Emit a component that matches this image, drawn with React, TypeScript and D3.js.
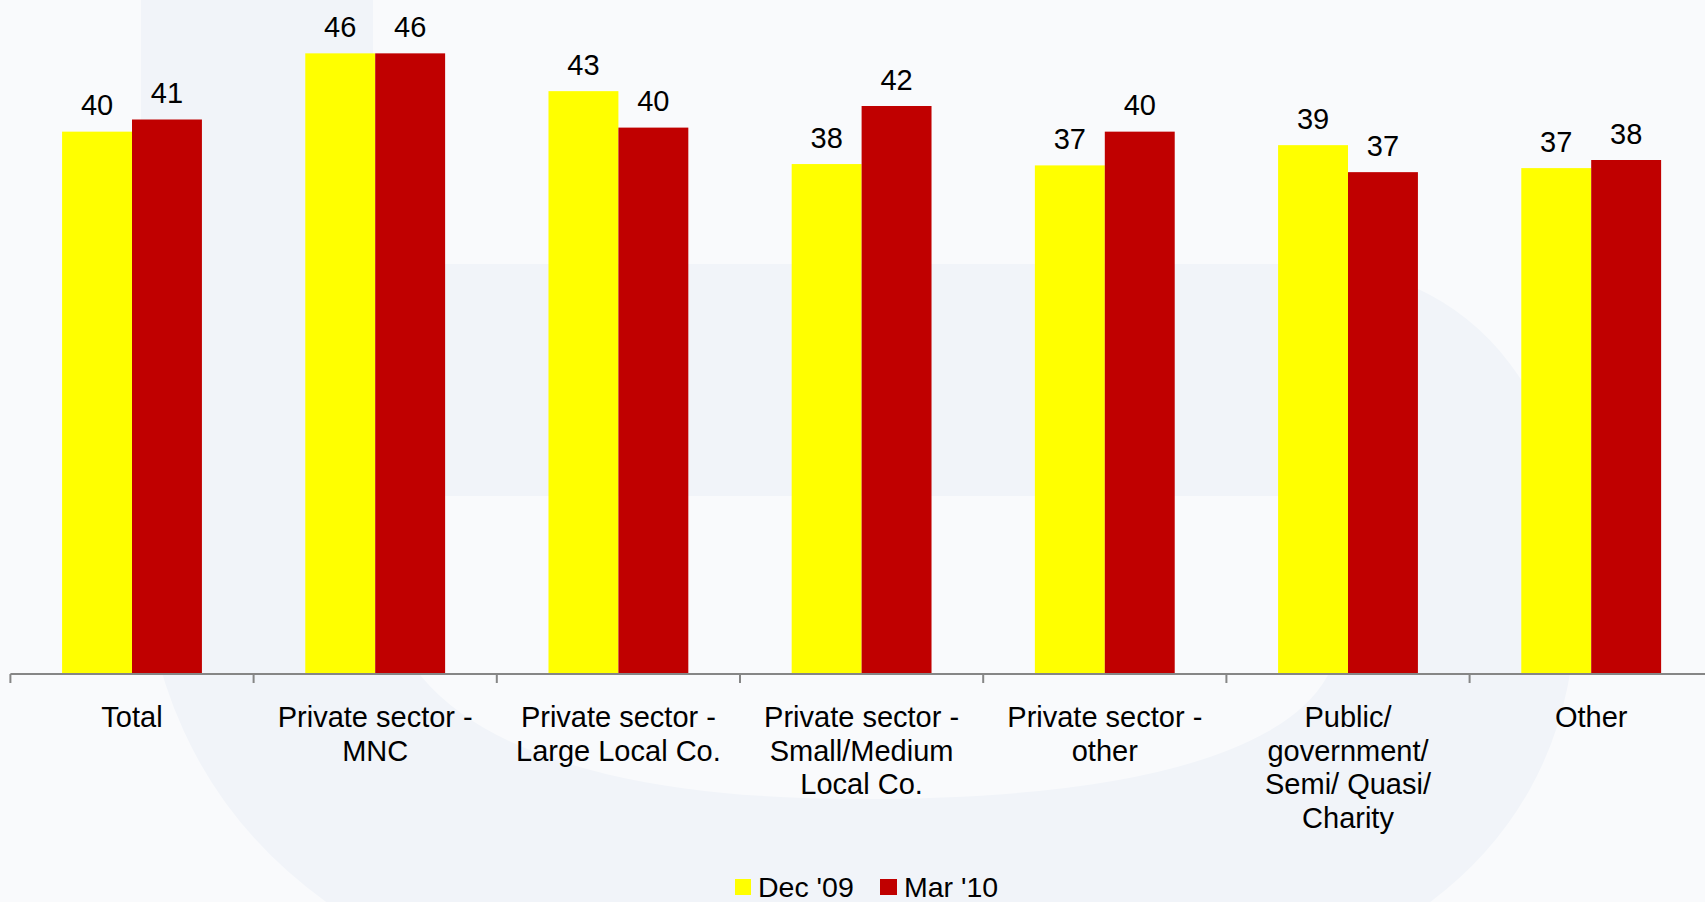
import React from "react";
import * as d3 from "d3";

const categories: string[] = [
  "Total",
  "Private sector -\nMNC",
  "Private sector -\nLarge Local Co.",
  "Private sector -\nSmall/Medium\nLocal Co.",
  "Private sector -\nother",
  "Public/\ngovernment/\nSemi/ Quasi/\nCharity",
  "Other",
];
const seriesNames: string[] = ["Dec '09", "Mar '10"];
const dec09: number[] = [40.1, 45.9, 43.1, 37.7, 37.6, 39.1, 37.4];
const mar10: number[] = [41.0, 45.9, 40.4, 42.0, 40.1, 37.1, 38.0];
const dec09Labels: string[] = ["40", "46", "43", "38", "37", "39", "37"];
const mar10Labels: string[] = ["41", "46", "40", "42", "40", "37", "38"];
const colors: string[] = ["#FFFF00", "#C00000"];

const W = 1705;
const H = 902;
const baseY = 673;
const FONT = "'Liberation Sans', Arial, Helvetica, sans-serif";

export default function App() {
  const x0 = d3.scaleBand<string>().domain(categories).range([10.4, 1712.8]).padding(0);
  const groupW = x0.bandwidth() * 0.575;
  const x1 = d3.scaleBand<string>().domain(seriesNames).range([0, groupW]).padding(0);
  const y = d3.scaleLinear().domain([0, 50]).range([baseY, baseY - 675]);

  const series = [
    { name: seriesNames[0], values: dec09, labels: dec09Labels, color: colors[0] },
    { name: seriesNames[1], values: mar10, labels: mar10Labels, color: colors[1] },
  ];

  const wm =
    "M 257 -40 L 257 520 C 257 760 420 915 860 915 C 1300 915 1460 800 1460 600 C 1460 450 1400 380 1300 380 L 257 380";

  return (
    <div style={{ position: "absolute", left: 0, top: 0 }}>
      <svg width={W} height={H} style={{ display: "block" }}>
        <rect x={0} y={0} width={W} height={H} fill="#f9fafc" />
        <path d={wm} fill="none" stroke="#f1f4f9" strokeWidth={232} />
        {categories.map((c, i) => {
          const gx = (x0(c) as number) + (x0.bandwidth() - groupW) / 2;
          return (
            <g key={c}>
              {series.map((s) => {
                const bx = gx + (x1(s.name) as number);
                const top = y(s.values[i]);
                return (
                  <g key={s.name}>
                    <rect x={bx} y={top} width={x1.bandwidth()} height={baseY - top} fill={s.color} />
                    <text
                      x={bx + x1.bandwidth() / 2}
                      y={top - 16.5}
                      textAnchor="middle"
                      fontFamily={FONT}
                      fontSize={29}
                      fill="#000"
                    >
                      {s.labels[i]}
                    </text>
                  </g>
                );
              })}
            </g>
          );
        })}
        <line x1={10.4} x2={W} y1={674} y2={674} stroke="#868686" strokeWidth={2} />
        {categories.map((c, i) => (
          <line
            key={"t" + i}
            x1={x0(c) as number}
            x2={x0(c) as number}
            y1={674}
            y2={683}
            stroke="#868686"
            strokeWidth={2}
          />
        ))}
        {categories.map((c) => {
          const cx = (x0(c) as number) + x0.bandwidth() / 2;
          return (
            <text key={"l" + c} textAnchor="middle" fontFamily={FONT} fontSize={29} fill="#000">
              {c.split("\n").map((line, j) => (
                <tspan key={j} x={cx} y={727 + j * 33.5}>
                  {line}
                </tspan>
              ))}
            </text>
          );
        })}
        <g>
          <rect x={735} y={879} width={16} height={16} fill={colors[0]} />
          <text x={758} y={897} fontFamily={FONT} fontSize={28.5} fill="#000">
            {seriesNames[0]}
          </text>
          <rect x={880} y={879} width={17} height={16} fill={colors[1]} />
          <text x={904} y={897} fontFamily={FONT} fontSize={28.5} fill="#000">
            {seriesNames[1]}
          </text>
        </g>
      </svg>
    </div>
  );
}
